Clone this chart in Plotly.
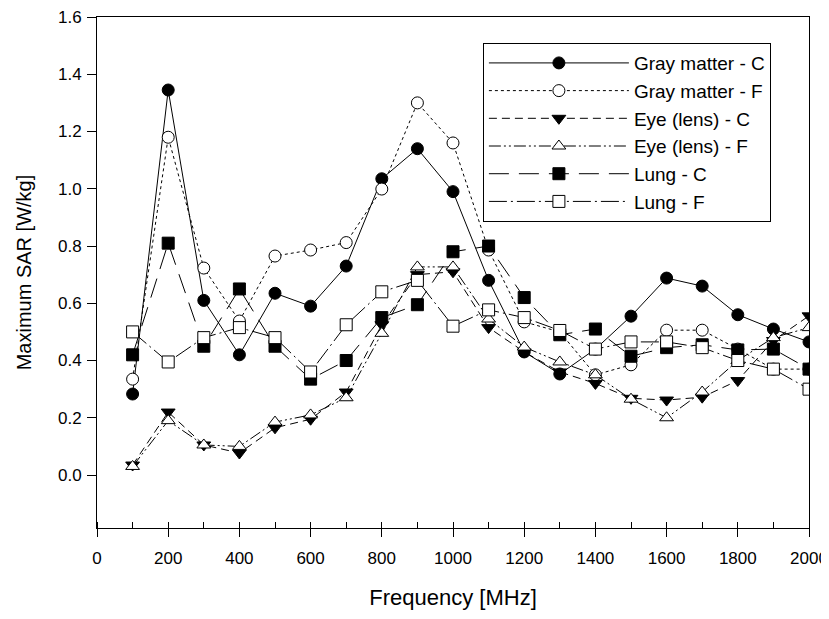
import plotly.graph_objects as go

freq = [100, 200, 300, 400, 500, 600, 700, 800, 900, 1000,
        1100, 1200, 1300, 1400, 1500, 1600, 1700, 1800, 1900, 2000]

gray_c = [0.283, 1.345, 0.61, 0.42, 0.635, 0.59, 0.73, 1.035, 1.14, 0.99,
          0.68, 0.43, 0.353, 0.44, 0.555, 0.688, 0.66, 0.56, 0.51, 0.465]
gray_f = [0.335, 1.18, 0.723, 0.538, 0.765, 0.786, 0.812, 0.999, 1.30, 1.16,
          0.786, 0.535, 0.50, 0.35, 0.385, 0.506, 0.506, 0.44, 0.37, 0.37]
eye_c = [0.035, 0.22, 0.105, 0.077, 0.165, 0.195, 0.29, 0.525, 0.70, 0.71,
         0.515, 0.43, 0.36, 0.32, 0.268, 0.262, 0.272, 0.33, 0.47, 0.556]
eye_f = [0.03, 0.19, 0.105, 0.10, 0.185, 0.21, 0.27, 0.495, 0.727, 0.727,
         0.545, 0.447, 0.395, 0.35, 0.265, 0.20, 0.29, 0.40, 0.48, 0.515]
lung_c = [0.42, 0.81, 0.45, 0.65, 0.45, 0.335, 0.40, 0.55, 0.595, 0.78,
          0.80, 0.62, 0.49, 0.51, 0.415, 0.445, 0.455, 0.437, 0.44, 0.37]
lung_f = [0.50, 0.395, 0.48, 0.515, 0.48, 0.36, 0.525, 0.64, 0.68, 0.52,
          0.577, 0.55, 0.505, 0.44, 0.465, 0.465, 0.445, 0.40, 0.37, 0.30]

series = [
    ("Gray matter - C", gray_c, "circle", "black", "solid"),
    ("Gray matter - F", gray_f, "circle", "white", "dot"),
    ("Eye (lens) - C", eye_c, "triangle-down", "black", "8px,5px"),
    ("Eye (lens) - F", eye_f, "triangle-up", "white", "12px,3px,2px,3px,2px,3px"),
    ("Lung - C", lung_c, "square", "black", "20px,10px"),
    ("Lung - F", lung_f, "square", "white", "18px,4px,2px,4px"),
]

FONT = "Liberation Sans, Arial, sans-serif"

fig = go.Figure()
for name, vals, sym, fill, dash in series:
    fig.add_trace(go.Scatter(
        x=freq, y=vals, name=name, mode="lines+markers",
        line=dict(color="black", width=1, dash=dash),
        marker=dict(symbol=sym, size=12, color=fill,
                    line=dict(color="black", width=1)),
    ))

# page body has an 8px default margin; the figure is sized to fit the window
fig.update_layout(
    width=821, height=602,
    margin=dict(l=89, r=20, t=9, b=82, autoexpand=False),
    paper_bgcolor="white", plot_bgcolor="white",
    font=dict(family=FONT, size=17, color="black"),
    showlegend=True,
    legend=dict(
        x=0.542, y=0.949, xanchor="left", yanchor="top",
        bgcolor="white", bordercolor="black", borderwidth=1,
        font=dict(family=FONT, size=19, color="black"),
        itemwidth=140, tracegroupgap=0,
    ),
    xaxis=dict(
        range=[0, 2000], tickvals=list(range(0, 2001, 200)),
        ticks="outside", ticklen=8, tickcolor="black", tickwidth=1,
        ticklabelstandoff=7, ticklabeloverflow="allow",
        minor=dict(dtick=100, ticks="inside", ticklen=6, tickcolor="black", tickwidth=1),
        showline=True, linecolor="black", linewidth=1, mirror=True,
        showgrid=False, zeroline=False, automargin=False,
        title=dict(text="Frequency [MHz]", font=dict(size=22), standoff=25),
        tickfont=dict(size=17),
    ),
    yaxis=dict(
        range=[-0.185, 1.6], tickvals=[0.0, 0.2, 0.4, 0.6, 0.8, 1.0, 1.2, 1.4, 1.6],
        tickformat=".1f",
        ticks="outside", ticklen=9, tickcolor="black", tickwidth=1,
        ticklabelstandoff=2, ticklabeloverflow="allow",
        showline=True, linecolor="black", linewidth=1, mirror=True,
        showgrid=False, zeroline=False, automargin=False,
        title=dict(text="Maximum SAR [W/kg]", font=dict(size=20), standoff=20),
        tickfont=dict(size=17),
    ),
)

fig.write_html("out.html")
